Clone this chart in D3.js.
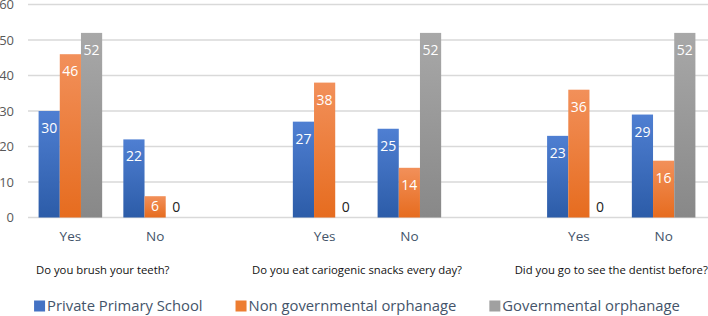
<!DOCTYPE html>
<html>
<head>
<meta charset="utf-8">
<script src="https://cdn.jsdelivr.net/npm/d3@7"></script>
<style>
  * { margin: 0; padding: 0; box-sizing: border-box; }
  body { background: #fff; width: 708px; height: 316px; overflow: hidden; }
  svg { display: block; font-family: "Open Sans", sans-serif; }
  .grid-line { stroke: #d9d9d9; stroke-width: 1.3; }
  .tick-label { font-size: 13px; fill: #595959; }
  .cat-label { font-size: 13.5px; fill: #44546a; }
  .question { font-size: 11.3px; fill: #111; }
  .bar-value { font-size: 14px; text-anchor: middle; }
  .legend-text { font-size: 14.8px; fill: #44546a; }
</style>
</head>
<body>
<svg id="chart" width="708" height="316"></svg>
<script>
// data
const questions = [
  "Do you brush your teeth?",
  "Do you eat cariogenic snacks every day?",
  "Did you go to see the dentist before?"
];
const answers = ["Yes", "No"];
const series = ["Private Primary School", "Non governmental orphanage", "Governmental orphanage"];
const privateSchool = [30, 22, 27, 25, 23, 29];
const nonGovOrphanage = [46, 6, 38, 14, 36, 16];
const govOrphanage = [52, 0, 0, 52, 0, 52];
const yTicks = [0, 10, 20, 30, 40, 50, 60];

const colors = [
  { top: "#4f7fd2", bottom: "#2c5ca8", key: "#4472c4" },
  { top: "#f2905a", bottom: "#e66c1f", key: "#ed7d31" },
  { top: "#a8a8a8", bottom: "#888888", key: "#a0a0a0" }
];

const values = [privateSchool, nonGovOrphanage, govOrphanage];

// each question takes 3 slots: Yes, No, empty gap
const rows = [];
questions.forEach((q, qi) => {
  answers.forEach((a, ai) => {
    const idx = qi * 2 + ai;
    rows.push({ slot: qi * 3 + ai, q: qi, answer: a, vals: values.map(v => v[idx]) });
  });
});

const svg = d3.select("#chart");
const plotLeft = 28, plotRight = 706, plotTop = 4.5, plotBottom = 217.5;

const x0 = d3.scaleBand().domain(d3.range(8)).range([plotLeft, plotRight]).padding(0);
const x1 = d3.scaleBand().domain(d3.range(series.length)).range([0, x0.bandwidth()]).paddingOuter(0.5).paddingInner(0);
const y = d3.scaleLinear().domain([0, 60]).range([plotBottom, plotTop]);

// gradients
const defs = svg.append("defs");
colors.forEach((c, i) => {
  const g = defs.append("linearGradient").attr("id", "grad" + i)
    .attr("x1", 0).attr("y1", 0).attr("x2", 0).attr("y2", 1);
  g.append("stop").attr("offset", "0%").attr("stop-color", c.top);
  g.append("stop").attr("offset", "100%").attr("stop-color", c.bottom);
});

// grid
svg.append("g").selectAll("line").data(yTicks).join("line")
  .attr("class", "grid-line")
  .attr("x1", plotLeft).attr("x2", 708)
  .attr("y1", d => y(d)).attr("y2", d => y(d));

svg.append("g").selectAll("text").data(yTicks).join("text")
  .attr("class", "tick-label")
  .attr("x", 14).attr("y", d => y(d)).attr("dy", "0.36em")
  .attr("text-anchor", "end")
  .text(d => d);

// bars
const groups = svg.append("g").selectAll("g").data(rows).join("g")
  .attr("transform", d => `translate(${x0(d.slot)},0)`);

groups.each(function(d) {
  const g = d3.select(this);
  d.vals.forEach((v, si) => {
    const bx = x1(si), bw = x1.bandwidth();
    if (v > 0) {
      g.append("rect")
        .attr("x", bx).attr("width", bw)
        .attr("y", y(v)).attr("height", y(0) - y(v))
        .attr("fill", `url(#grad${si})`);
    }
    const ly = v > 0 ? Math.min(y(v) + 22, y(0) - 7) : y(0) - 6;
    g.append("text")
      .attr("class", "bar-value")
      .attr("x", bx + bw / 2)
      .attr("y", ly)
      .attr("fill", v > 0 ? "#fff" : "#222")
      .text(v);
  });
  g.append("text")
    .attr("class", "cat-label")
    .attr("x", x0.bandwidth() / 2)
    .attr("y", 241)
    .attr("text-anchor", "middle")
    .text(d.answer);
});

// question labels, under each Yes/No pair
svg.append("g").selectAll("text").data(questions).join("text")
  .attr("class", "question")
  .attr("x", (d, i) => (x0(i * 3) + x0(i * 3 + 1) + x0.bandwidth()) / 2 - 10)
  .attr("y", 274)
  .attr("text-anchor", "middle")
  .text(d => d);

// legend
const legend = svg.append("g");
let lx = 0;
series.forEach((s, i) => {
  const item = legend.append("g").attr("transform", `translate(${lx},0)`);
  item.append("rect").attr("x", 0).attr("y", -10.5).attr("width", 11).attr("height", 11)
    .attr("fill", colors[i].key);
  const t = item.append("text").attr("class", "legend-text").attr("x", 13).attr("y", 0).text(s);
  lx += 13 + t.node().getComputedTextLength() + 33;
});
const legendWidth = lx - 33;
legend.attr("transform", `translate(${(708 - legendWidth) / 2 + 3},311)`);
</script>
</body>
</html>
